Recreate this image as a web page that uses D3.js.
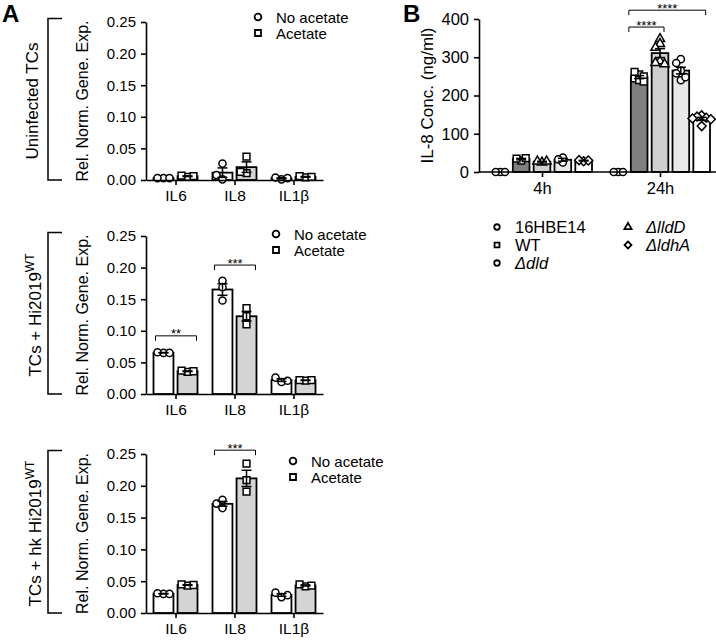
<!DOCTYPE html>
<html><head><meta charset="utf-8">
<script src="https://cdn.jsdelivr.net/npm/d3@7"></script>
<style>
body{margin:0;background:#fff}
svg{display:block;font-family:"Liberation Sans",Arial,sans-serif}
</style></head><body>
<svg id="fig" width="716" height="640"></svg>
<script>
// ---- data: panel A (relative normalised gene expression, 3 replicates each) ----
var genes = ['IL6', 'IL8', 'IL1β'];
var treatments = ['No acetate', 'Acetate'];
var ticksA = [0, 0.05, 0.10, 0.15, 0.20, 0.25];

var uninfNoAc = [[0.003, 0.003, 0.003], [0.001, 0.026, 0.008], [0.001, 0.004, 0.003]];
var uninfAc   = [[0.005, 0.007, 0.006], [0.037, 0.011, 0.013], [0.004, 0.006, 0.005]];
var wtNoAc    = [[0.065, 0.066, 0.065], [0.179, 0.169, 0.148], [0.019, 0.026, 0.021]];
var wtAc      = [[0.035, 0.037, 0.036], [0.136, 0.123, 0.110], [0.021, 0.022, 0.022]];
var hkNoAc    = [[0.030, 0.031, 0.030], [0.178, 0.165, 0.172], [0.025, 0.032, 0.028]];
var hkAc      = [[0.043, 0.045, 0.044], [0.235, 0.209, 0.191], [0.042, 0.045, 0.043]];

// significance: [gene, stars, bracket height]
var wtSig = [['IL6', '**', 0.092], ['IL8', '***', 0.204]];
var hkSig = [['IL8', '***', 0.256]];

// ---- data: panel B (IL-8 ng/ml) ----
var times = ['4h', '24h'];
var strains = ['16HBE14', 'WT', 'ΔlldD', 'Δdld', 'ΔldhA'];
var ticksB = [0, 100, 200, 300, 400];
var il8at4h  = [[0, 0, 0], [30, 35, 36], [25, 28, 28], [25, 38, 33], [28, 31, 30]];
var il8at24h = [[0, 0, 0],
                [255, 245, 240, 262, 250, 236],
                [348, 335, 325, 290, 285, 282],
                [295, 285, 265, 258, 240, 248],
                [148, 145, 142, 140, 138, 120]];
// [from, to, stars, bracket height]
var sigB = [['WT', 'ΔlldD', '****', 379], ['WT', 'ΔldhA', '****', 423]];
var legendB = [['16HBE14', 'WT', 'Δdld'], ['ΔlldD', 'ΔldhA']];

// ---- styles ----
var treatFill = {'No acetate': '#fff', 'Acetate': '#d4d4d4'};
var treatShape = {'No acetate': 'circle', 'Acetate': 'square'};
var strainFill = {'16HBE14': '#fff', 'WT': '#808080', 'ΔlldD': '#cfcfcf', 'Δdld': '#e9e9e9', 'ΔldhA': '#fff'};
var strainShape = {'16HBE14': 'circle', 'WT': 'square', 'ΔlldD': 'triangle', 'Δdld': 'circle', 'ΔldhA': 'diamond'};

var svg = d3.select('#fig');

function symPath(shape, size) {
  var t = {circle: d3.symbolCircle, square: d3.symbolSquare, triangle: d3.symbolTriangle, diamond: d3.symbolSquare}[shape];
  return d3.symbol().type(t).size(size)();
}
function symRot(shape) { return shape === 'diamond' ? ' rotate(45)' : ''; }

// simple beeswarm so equal values spread sideways
function swarm(ys, sep) {
  var placed = [];
  ys.forEach(function (y) {
    var dx = 0;
    for (var i = 0; i < 30; i++) {
      dx = i === 0 ? 0 : (i % 2 ? -1 : 1) * Math.ceil(i / 2) * sep;
      if (placed.every(function (p) { return Math.hypot(p.dx - dx, p.y - y) >= sep; })) break;
    }
    placed.push({dx: dx, y: y});
  });
  return placed;
}

function styleAxis(g, fs) {
  g.attr('font-family', null).attr('font-size', fs);
  g.selectAll('path,line').attr('stroke', '#000').attr('stroke-width', 1.6);
  g.selectAll('text').attr('fill', '#000');
}

// draws bar + points + sem for one group
function drawGroup(g, cx, bw, vals, y, fill, shape, symSize, sep) {
  var m = d3.mean(vals);
  var sem = vals.length > 1 ? d3.deviation(vals) / Math.sqrt(vals.length) : 0;
  g.append('rect')
    .attr('x', cx - bw / 2).attr('width', bw)
    .attr('y', y(m)).attr('height', y(0) - y(m))
    .attr('fill', fill).attr('stroke', '#000').attr('stroke-width', 1.8);
  swarm(vals.map(y), sep).forEach(function (p) {
    g.append('path')
      .attr('d', symPath(shape, symSize))
      .attr('transform', 'translate(' + (cx + p.dx) + ',' + p.y + ')' + symRot(shape))
      .attr('fill', '#fff').attr('stroke', '#000').attr('stroke-width', 1.5);
  });
  if (sem > 0) {
    var e = g.append('g').attr('stroke', '#000').attr('stroke-width', 1.5);
    e.append('line').attr('x1', cx).attr('x2', cx).attr('y1', y(m - sem)).attr('y2', y(m + sem));
    e.append('line').attr('x1', cx - 5).attr('x2', cx + 5).attr('y1', y(m + sem)).attr('y2', y(m + sem));
    e.append('line').attr('x1', cx - 5).attr('x2', cx + 5).attr('y1', y(m - sem)).attr('y2', y(m - sem));
  }
}

function bracket(g, x1, x2, yy, stars, fs) {
  g.append('path')
    .attr('d', 'M' + x1 + ',' + (yy + 5) + 'V' + yy + 'H' + x2 + 'V' + (yy + 5))
    .attr('fill', 'none').attr('stroke', '#000').attr('stroke-width', 1);
  g.append('text').attr('x', (x1 + x2) / 2).attr('y', yy + 2.5)
    .attr('text-anchor', 'middle').attr('font-size', fs).text(stars);
}

// ================= Panel A =================
var xA = d3.scalePoint().domain(genes).range([146, 323]).padding(0.5);
var inA = d3.scaleBand().domain(treatments).range([-22, 22]).paddingInner(0.17);

var chartsA = [
  {title: 'Uninfected TCs', sup: '', y0: 180, y1: 22, legX: 258, legY: 17, lblX: 38, sets: [uninfNoAc, uninfAc], sig: []},
  {title: 'TCs + Hi2019', sup: 'WT', y0: 394, y1: 236, legX: 276, legY: 234, lblX: 41, sets: [wtNoAc, wtAc], sig: wtSig},
  {title: 'TCs + hk Hi2019', sup: 'WT', y0: 613, y1: 454, legX: 293, legY: 461, lblX: 41, sets: [hkNoAc, hkAc], sig: hkSig}
];

chartsA.forEach(function (c) {
  var y = d3.scaleLinear().domain([0, 0.25]).range([c.y0, c.y1]);
  var g = svg.append('g');

  // bars, points, error bars
  treatments.forEach(function (t, ti) {
    genes.forEach(function (gene, gi) {
      drawGroup(g, xA(gene) + inA(t) + inA.bandwidth() / 2, inA.bandwidth(), c.sets[ti][gi], y,
        treatFill[t], treatShape[t], t === 'Acetate' ? 46 : 40, 6);
    });
  });

  // axes
  g.append('g').attr('transform', 'translate(' + xA.range()[0] + ',0)')
    .call(d3.axisLeft(y).tickValues(ticksA).tickFormat(d3.format('.2f')).tickSize(5).tickPadding(5).tickSizeOuter(0))
    .call(styleAxis, 15);
  g.append('g').attr('transform', 'translate(0,' + y(0) + ')')
    .call(d3.axisBottom(xA).tickSize(5).tickPadding(5).tickSizeOuter(0))
    .call(styleAxis, 15.5);

  // y title
  g.append('text').attr('transform', 'translate(88,' + (c.y0 + c.y1) / 2 + ') rotate(-90)')
    .attr('text-anchor', 'middle').attr('font-size', 16).text('Rel. Norm. Gene. Exp.');

  // group bracket + label
  g.append('path').attr('d', 'M62,' + (c.y1 - 3.5) + 'H48V' + c.y0 + 'H62')
    .attr('fill', 'none').attr('stroke', '#000').attr('stroke-width', 1.5);
  var lbl = g.append('text').attr('transform', 'translate(' + c.lblX + ',' + (c.y0 + c.y1) / 2 + ') rotate(-90)')
    .attr('text-anchor', 'middle').attr('font-size', 17);
  lbl.append('tspan').text(c.title);
  if (c.sup) lbl.append('tspan').attr('dy', -7).attr('font-size', 12).text(c.sup);

  // significance
  c.sig.forEach(function (s) {
    var x1 = xA(s[0]) + inA.range()[0] + 2, x2 = xA(s[0]) + inA.range()[1] - 1;
    bracket(g, x1, x2, y(s[2]), s[1], 13);
  });

  // legend
  treatments.forEach(function (t, i) {
    var ly = c.legY + i * 16;
    g.append('path').attr('d', symPath(treatShape[t], 36))
      .attr('transform', 'translate(' + c.legX + ',' + ly + ')')
      .attr('fill', '#fff').attr('stroke', '#000').attr('stroke-width', 1.8);
    g.append('text').attr('x', c.legX + 18).attr('y', ly + 5.5).attr('font-size', 15).text(t);
  });
});

svg.append('text').attr('x', 2).attr('y', 22).attr('font-size', 24).attr('font-weight', 'bold').text('A');

// ================= Panel B =================
var xB = d3.scalePoint().domain(times).range([483, 719]).padding(0.5);
var inB = d3.scaleBand().domain(strains).range([-50, 50]).paddingInner(0.2);
var yB = d3.scaleLinear().domain([0, 400]).range([172, 19]);
var gB = svg.append('g');
var setsB = [il8at4h, il8at24h];

function cxB(time, strain) { return xB(time) + inB(strain) + inB.bandwidth() / 2; }

times.forEach(function (tm, ti) {
  strains.forEach(function (s, si) {
    drawGroup(gB, cxB(tm, s), inB.bandwidth(), setsB[ti][si], yB, strainFill[s], strainShape[s],
      strainShape[s] === 'triangle' ? 36 : (strainShape[s] === 'square' ? 46 : 40), 4.6);
  });
});

var yAxisX = 479;
gB.append('g').attr('transform', 'translate(' + yAxisX + ',0)')
  .call(d3.axisLeft(yB).tickValues(ticksB).tickSize(5).tickPadding(5).tickSizeOuter(0))
  .call(styleAxis, 16.5);
var xAxB = gB.append('g').attr('transform', 'translate(0,' + yB(0) + ')')
  .call(d3.axisBottom(xB).tickSize(5).tickPadding(5).tickSizeOuter(0))
  .call(styleAxis, 16.5);
xAxB.select('.domain').attr('d', 'M' + yAxisX + ',0H' + xB.range()[1]);

gB.append('text').attr('transform', 'translate(433,' + (yB(0) + yB(400)) / 2 + ') rotate(-90)')
  .attr('text-anchor', 'middle').attr('font-size', 17).text('IL-8 Conc. (ng/ml)');

sigB.forEach(function (s) {
  var x1 = cxB('24h', s[0]) - inB.bandwidth() / 2 - 2;
  var x2 = cxB('24h', s[1]) + 4;
  bracket(gB, x1, x2, yB(s[3]), s[2], 13);
});

// legend B
var legColX = [497, 628];
legendB.forEach(function (col, ci) {
  col.forEach(function (name, ri) {
    var ly = 227 + ri * 18;
    var sh = strainShape[name];
    gB.append('path').attr('d', symPath(sh, sh === 'triangle' ? 22 : 24))
      .attr('transform', 'translate(' + legColX[ci] + ',' + ly + ')' + symRot(sh))
      .attr('fill', '#fff').attr('stroke', '#000').attr('stroke-width', 1.8);
    gB.append('text').attr('x', legColX[ci] + 18).attr('y', ly + 6).attr('font-size', 16.5)
      .attr('font-style', name.charAt(0) === 'Δ' ? 'italic' : null).text(name);
  });
});

svg.append('text').attr('x', 403).attr('y', 22).attr('font-size', 24).attr('font-weight', 'bold').text('B');
</script>
</body></html>
